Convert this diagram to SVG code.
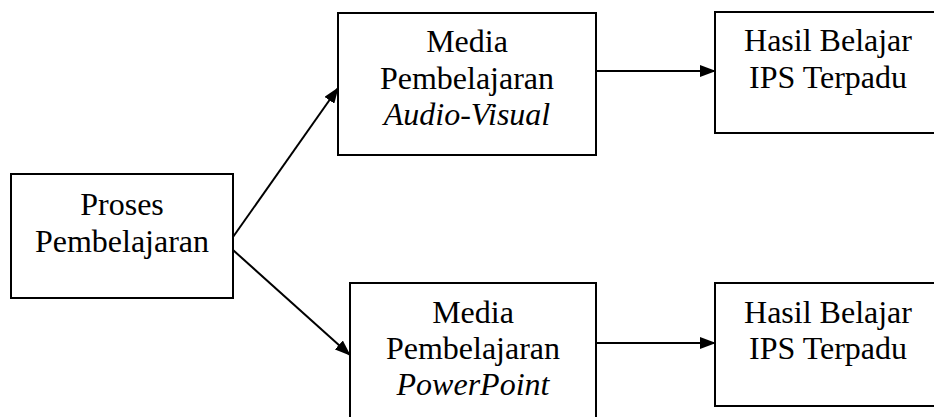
<svg xmlns="http://www.w3.org/2000/svg" width="934" height="417" viewBox="0 0 934 417">
<style>
.box{fill:#fff;stroke:#000;stroke-width:2}
.t{font-size:32px;fill:#000;text-anchor:middle}
.i{font-style:italic}
.c{stroke:#000;stroke-width:2;fill:none;marker-end:url(#ah)}
</style>
<defs>
<marker id="ah" markerUnits="userSpaceOnUse" markerWidth="16" markerHeight="12" refX="15" refY="6" orient="auto">
<path d="M0,0 L16,6 L0,12 Z" fill="#000"/>
</marker>
</defs>
<rect width="934" height="417" fill="#fff"/>
<g id="connectors">
<line class="c" x1="233" y1="237" x2="338" y2="88"/>
<line class="c" x1="233" y1="250" x2="350" y2="355"/>
<line class="c" x1="596" y1="71" x2="715" y2="71"/>
<line class="c" x1="596" y1="343" x2="715" y2="343"/>
</g>
<g font-family="Liberation Serif, serif">
<g id="proses">
<rect class="box" x="11" y="174" width="222" height="124"/>
<text class="t" x="122" y="215">Proses</text>
<text class="t" x="122" y="252">Pembelajaran</text>
</g>
<g id="media-av">
<rect class="box" x="338" y="13" width="258" height="142"/>
<text class="t" x="467" y="52">Media</text>
<text class="t" x="467" y="89">Pembelajaran</text>
<text class="t i" x="467" y="125">Audio-Visual</text>
</g>
<g id="media-pp">
<rect class="box" x="350" y="283" width="246" height="150"/>
<text class="t" x="473" y="323">Media</text>
<text class="t" x="473" y="359">Pembelajaran</text>
<text class="t i" x="473" y="395">PowerPoint</text>
</g>
<g id="hasil-1">
<rect class="box" x="715" y="12" width="226" height="121"/>
<text class="t" x="828" y="51">Hasil Belajar</text>
<text class="t" x="828" y="88">IPS Terpadu</text>
</g>
<g id="hasil-2">
<rect class="box" x="715" y="283" width="226" height="123"/>
<text class="t" x="828" y="323">Hasil Belajar</text>
<text class="t" x="828" y="359">IPS Terpadu</text>
</g>
</g>
</svg>
